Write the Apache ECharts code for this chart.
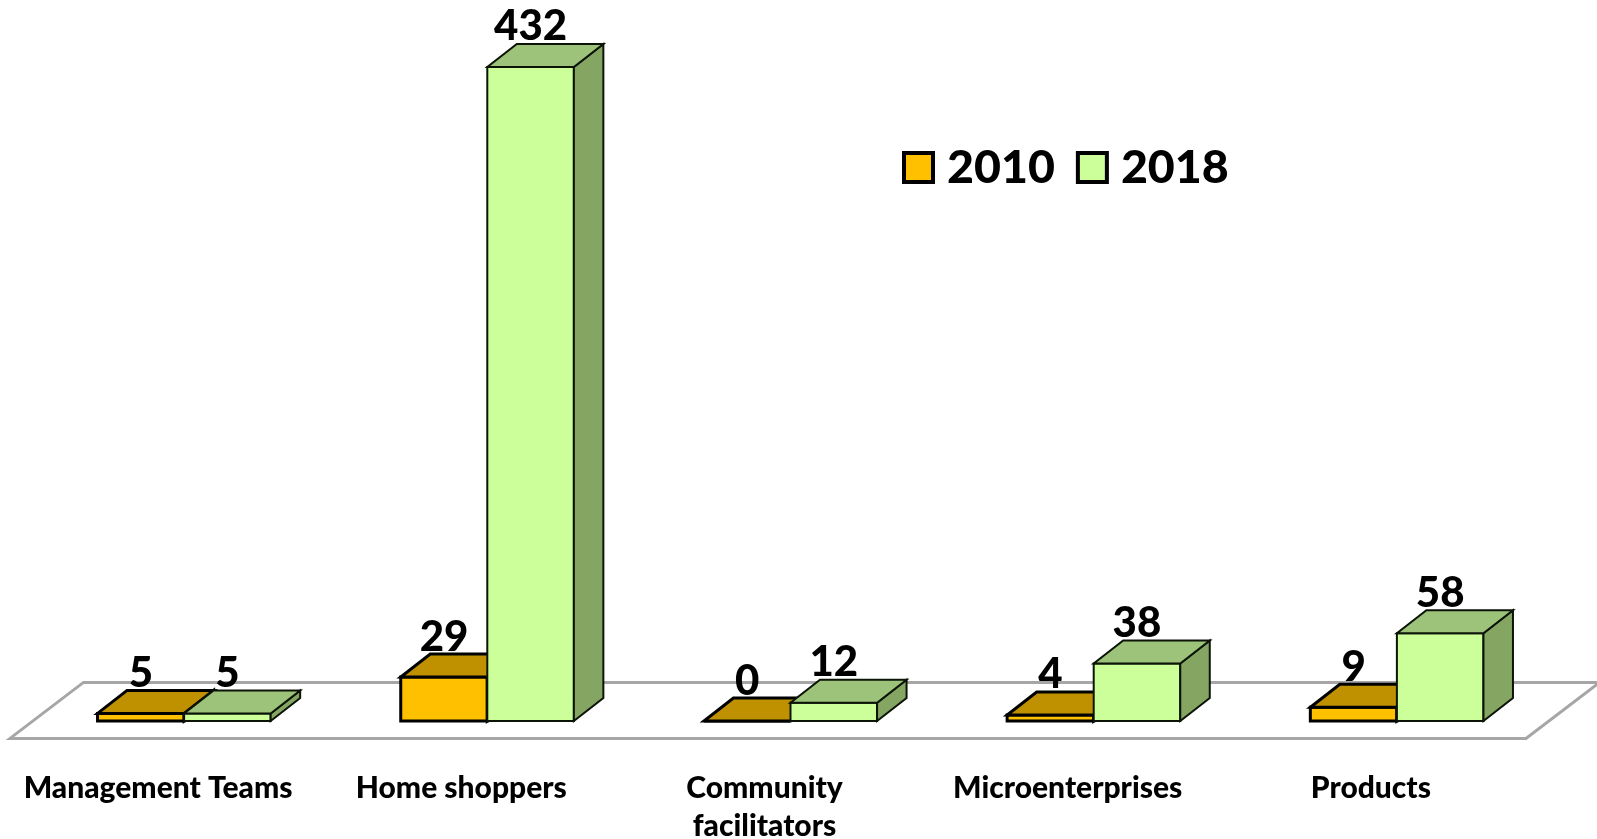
<!DOCTYPE html>
<html>
<head>
<meta charset="utf-8">
<style>html,body{margin:0;padding:0;background:#fff}#chart{width:1597px;height:839px}</style>
<script src="https://cdn.jsdelivr.net/npm/echarts@6/dist/echarts.min.js"></script>
</head>
<body>
<div id="chart"></div>
<script>
// Programme counts per category, compared between two years.
const categories = ['Management Teams', 'Home shoppers', 'Community\nfacilitators', 'Microenterprises', 'Products'];
const values2010 = [5, 29, 0, 4, 9];
const values2018 = [5, 432, 12, 38, 58];

const FONT = 'Lato, "Open Sans", sans-serif';
// Oblique projection used for every extruded shape.
const DEPTH_X = 29.5, DEPTH_Y = -23;
const BAR_FRACTION = 0.2855;

const palette = {
  2010: { front: '#FFC000', top: '#BF9000', side: '#BF9000', stroke: '#000000', lineWidth: 3 },
  2018: { front: '#CCFF99', top: '#9DC37A', side: '#85A563', stroke: '#0c1408', lineWidth: 2 }
};

const poly = (pts, fill, c) => ({
  type: 'polygon',
  shape: { points: pts },
  style: { fill: fill, stroke: c.stroke, lineWidth: c.lineWidth, lineJoin: 'miter' }
});

// Draws one extruded bar plus its value label; side selects left or right of the band centre.
function barRenderer(year, side) {
  const c = palette[year];
  return function (params, api) {
    const idx = api.value(0), val = api.value(1);
    const top = api.coord([idx, val]);
    const base = api.coord([idx, 0]);
    const w = api.size([1, 0])[0] * BAR_FRACTION;
    const x0 = side < 0 ? top[0] - w : top[0];
    const x1 = x0 + w;
    const yT = top[1], yB = base[1];
    return {
      type: 'group',
      children: [
        poly([[x0, yB], [x1, yB], [x1, yT], [x0, yT]], c.front, c),
        poly([[x1, yB], [x1 + DEPTH_X, yB + DEPTH_Y], [x1 + DEPTH_X, yT + DEPTH_Y], [x1, yT]], c.side, c),
        poly([[x0, yT], [x1, yT], [x1 + DEPTH_X, yT + DEPTH_Y], [x0 + DEPTH_X, yT + DEPTH_Y]], c.top, c),
        {
          type: 'text',
          x: (x0 + x1) / 2,
          y: yT + DEPTH_Y - 17,
          style: {
            text: String(val),
            fill: '#000',
            font: '900 42px ' + FONT,
            align: 'center',
            verticalAlign: 'middle'
          }
        }
      ]
    };
  };
}

// Floor plane under the bars, derived from the plot extent.
function floorRenderer(params) {
  const g = params.coordSys;
  const yBase = g.y + g.height;
  const frontY = yBase + 17.4, backY = frontY - 56;
  const frontL = g.x - 22.5, frontR = frontL + g.width;
  return {
    type: 'polygon',
    shape: { points: [[frontL, frontY], [frontR, frontY], [frontR + 73.5, backY], [frontL + 73.5, backY]] },
    style: { fill: '#fff', stroke: '#A6A6A6', lineWidth: 3 }
  };
}

const chart = echarts.init(document.getElementById('chart'), null, { renderer: 'canvas' });
chart.setOption({
  animation: false,
  backgroundColor: '#fff',
  grid: { left: 32.5, width: 1516, top: 39.7, bottom: 118, outerBoundsMode: 'none' },
  xAxis: {
    type: 'category',
    data: categories,
    axisLine: { show: false },
    axisTick: { show: false },
    axisLabel: {
      color: '#000',
      fontFamily: FONT,
      fontWeight: 900,
      fontSize: 30,
      lineHeight: 38,
      margin: 48,
      padding: [0, 52, 0, 0],
      interval: 0
    }
  },
  yAxis: { type: 'value', min: 0, max: 450, show: false, splitLine: { show: false } },
  legend: {
    left: 897,
    top: 139,
    data: ['2010', '2018'],
    icon: 'rect',
    itemWidth: 29,
    itemHeight: 29,
    itemGap: 21,
    selectedMode: false,
    itemStyle: { borderColor: '#000', borderWidth: 4 },
    textStyle: { color: '#000', fontFamily: FONT, fontWeight: 900, fontSize: 46.5, padding: [0, 0, 0, 9] }
  },
  series: [
    {
      type: 'custom', silent: true, z: 1,
      renderItem: floorRenderer,
      data: [[0, 0]],
      encode: { x: 0, y: 1 }
    },
    {
      name: '2010', type: 'custom', z: 2,
      renderItem: barRenderer(2010, -1),
      itemStyle: { color: palette[2010].front },
      encode: { x: 0, y: 1 },
      data: values2010.map((v, i) => [i, v])
    },
    {
      name: '2018', type: 'custom', z: 3,
      renderItem: barRenderer(2018, 1),
      itemStyle: { color: palette[2018].front },
      encode: { x: 0, y: 1 },
      data: values2018.map((v, i) => [i, v])
    }
  ]
});
</script>
</body>
</html>
